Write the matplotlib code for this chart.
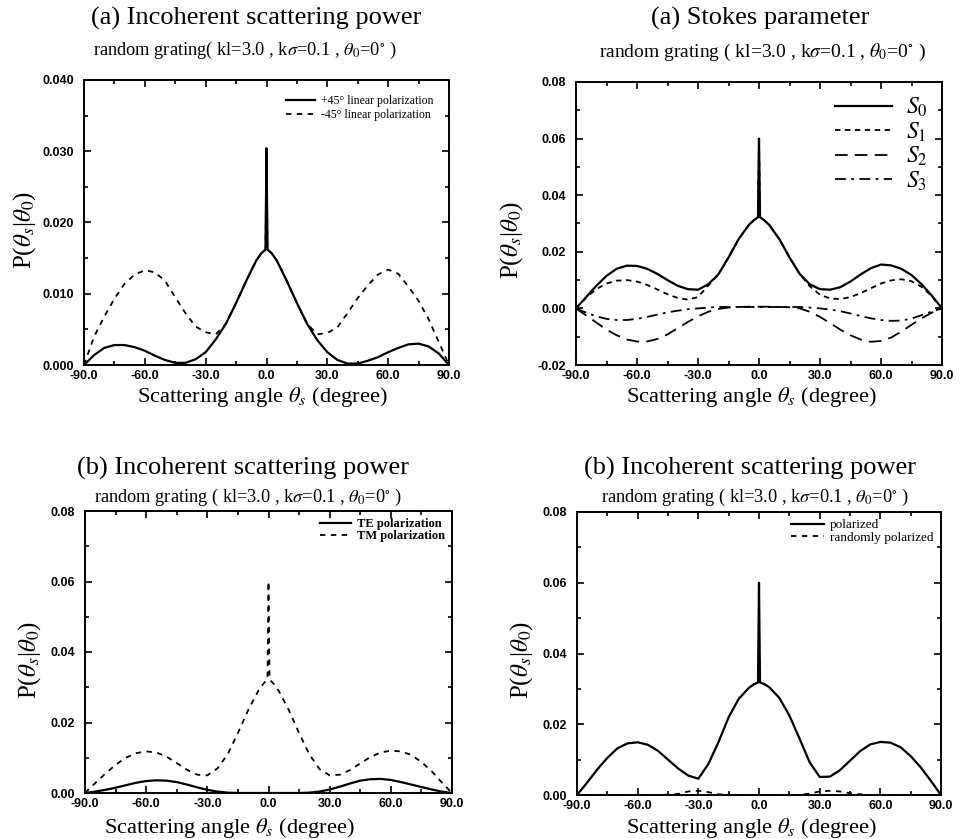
import matplotlib
matplotlib.use('Agg')
import matplotlib.pyplot as plt
from matplotlib.ticker import FormatStrFormatter, MultipleLocator

plt.rcParams['font.family'] = 'Liberation Serif'
plt.rcParams['mathtext.fontset'] = 'stix'

# scattering angle (degree), shared by all four panels
angle = [-90, -85, -80, -75, -70, -65, -60, -55, -50, -45, -40, -35, -30, -25, -20,
         -15, -10, -5, -2.5, -0.5, 0, 0.5, 2.5, 5, 10, 15, 20, 25, 30, 35, 40, 45, 50,
         55, 60, 65, 70, 75, 80, 85, 90]

# (a) incoherent scattering power, +45 / -45 linear polarization
plus45 = [0.0, 0.0014, 0.0024, 0.0028, 0.0028, 0.0025, 0.0020, 0.0013, 0.0007, 0.0003,
          0.0003, 0.0008, 0.0018, 0.0036, 0.0058, 0.0087, 0.0118, 0.0147, 0.0157, 0.0162,
          0.0304, 0.0162, 0.0157, 0.0147, 0.0118, 0.0087, 0.0058, 0.0035, 0.0018, 0.0007,
          0.0002, 0.0002, 0.0006, 0.0011, 0.0018, 0.0024, 0.0029, 0.0030, 0.0026, 0.0016, 0.0]
minus45 = [0.0, 0.0040, 0.0068, 0.0093, 0.0114, 0.0127, 0.0133, 0.0130, 0.0118, 0.0095,
           0.0073, 0.0054, 0.0046, 0.0043, 0.0058, 0.0087, 0.0118, 0.0147, 0.0157, 0.0162,
           0.0304, 0.0162, 0.0157, 0.0147, 0.0118, 0.0087, 0.0058, 0.0043, 0.0045, 0.0053,
           0.0073, 0.0094, 0.0112, 0.0127, 0.0134, 0.0128, 0.0110, 0.0090, 0.0064, 0.0032, 0.0]

# (a) Stokes parameters
s0 = [0.0, 0.0040, 0.0080, 0.0115, 0.0140, 0.0151, 0.0150, 0.0140, 0.0122, 0.0100,
      0.0080, 0.0068, 0.0066, 0.0085, 0.0120, 0.0180, 0.0245, 0.0295, 0.0312, 0.0322,
      0.0600, 0.0322, 0.0312, 0.0295, 0.0245, 0.0180, 0.0122, 0.0085, 0.0068, 0.0066,
      0.0075, 0.0095, 0.0120, 0.0142, 0.0155, 0.0152, 0.0140, 0.0118, 0.0085, 0.0045, 0.0]
s1 = [0.0, 0.0038, 0.0068, 0.0088, 0.0098, 0.0100, 0.0095, 0.0083, 0.0067, 0.0050,
      0.0037, 0.0031, 0.0040, 0.0080, 0.0120, 0.0180, 0.0245, 0.0295, 0.0312, 0.0322,
      0.0600, 0.0322, 0.0312, 0.0295, 0.0245, 0.0180, 0.0122, 0.0078, 0.0048, 0.0035,
      0.0033, 0.0040, 0.0054, 0.0071, 0.0088, 0.0099, 0.0103, 0.0096, 0.0076, 0.0043, 0.0]
s2 = [0.0, -0.0025, -0.0050, -0.0075, -0.0095, -0.0110, -0.0117, -0.0117, -0.0108, -0.0092,
      -0.0070, -0.0048, -0.0028, -0.0012, -0.0002, 0.0003, 0.0005, 0.0006, 0.0006, 0.0006,
      0.0006, 0.0006, 0.0006, 0.0006, 0.0005, 0.0004, 0.0, -0.0012, -0.0030, -0.0052,
      -0.0075, -0.0095, -0.0110, -0.0118, -0.0115, -0.0103, -0.0082, -0.0058, -0.0035,
      -0.0015, 0.0]
s3 = [0.0, -0.0015, -0.0028, -0.0037, -0.0041, -0.0041, -0.0037, -0.0030, -0.0022, -0.0014,
      -0.0008, -0.0003, 0.0, 0.0003, 0.0005, 0.0005, 0.0005, 0.0005, 0.0005, 0.0005,
      0.0005, 0.0005, 0.0005, 0.0005, 0.0005, 0.0005, 0.0005, 0.0003, 0.0, -0.0004,
      -0.0010, -0.0018, -0.0027, -0.0035, -0.0041, -0.0044, -0.0043, -0.0036, -0.0024,
      -0.0011, 0.0]

# (b) TE / TM polarization
te = [0.0, 0.0004, 0.0009, 0.0015, 0.0022, 0.0029, 0.0034, 0.0036, 0.0035, 0.0031,
      0.0024, 0.0016, 0.0009, 0.0004, 0.0001, 0.0, 0.0, 0.0, 0.0, 0.0,
      0.0, 0.0, 0.0, 0.0, 0.0, 0.0, 0.0001, 0.0004, 0.0010, 0.0018,
      0.0027, 0.0035, 0.0039, 0.0040, 0.0037, 0.0031, 0.0024, 0.0017, 0.0010, 0.0004, 0.0]
tm = [0.0, 0.0028, 0.0055, 0.0080, 0.0100, 0.0113, 0.0118, 0.0115, 0.0103, 0.0085,
      0.0066, 0.0052, 0.0050, 0.0070, 0.0110, 0.0170, 0.0235, 0.0290, 0.0310, 0.0322,
      0.0600, 0.0322, 0.0310, 0.0290, 0.0235, 0.0170, 0.0110, 0.0068, 0.0050, 0.0052,
      0.0065, 0.0084, 0.0102, 0.0115, 0.0120, 0.0118, 0.0108, 0.0088, 0.0062, 0.0030, 0.0]

# (b) polarized / randomly polarized
polarized = [0.0, 0.0035, 0.0072, 0.0105, 0.0132, 0.0146, 0.0149, 0.0142, 0.0125, 0.0100,
             0.0075, 0.0055, 0.0046, 0.0088, 0.0150, 0.0220, 0.0272, 0.0303, 0.0313, 0.0318,
             0.0600, 0.0318, 0.0314, 0.0305, 0.0275, 0.0225, 0.0160, 0.0093, 0.0051, 0.0052,
             0.0070, 0.0097, 0.0124, 0.0143, 0.0150, 0.0148, 0.0135, 0.0110, 0.0078, 0.0040, 0.0]
random_pol = [0.0, 0.0, 0.0, 0.0, 0.0, 0.0, 0.0, 0.0, 0.0, 0.0001,
              0.0003, 0.0010, 0.0012, 0.0008, 0.0002, 0.0, 0.0, 0.0, 0.0, 0.0,
              0.0, 0.0, 0.0, 0.0, 0.0, 0.0, 0.0, 0.0004, 0.0010, 0.0012,
              0.0010, 0.0005, 0.0002, 0.0, 0.0, 0.0, 0.0, 0.0, 0.0, 0.0, 0.0]

W, H = 961, 839
fig = plt.figure(figsize=(W / 100, H / 100), dpi=100)


def px_axes(left, top, right, bottom):
    return fig.add_axes([left / W, 1 - bottom / H, (right - left) / W, (bottom - top) / H])


def px_text(x, y, s, **kw):
    fig.text(x / W, 1 - y / H, s, ha='center', va='center', **kw)


def style_axes(ax, ylim, ystep, yfmt):
    ax.set_xlim(-90, 90)
    ax.set_ylim(*ylim)
    ax.xaxis.set_major_locator(MultipleLocator(30))
    ax.xaxis.set_minor_locator(MultipleLocator(15))
    ax.yaxis.set_major_locator(MultipleLocator(ystep))
    ax.yaxis.set_minor_locator(MultipleLocator(ystep / 2))
    ax.xaxis.set_major_formatter(FormatStrFormatter('%.1f'))
    ax.yaxis.set_major_formatter(FormatStrFormatter(yfmt))
    ax.tick_params(which='both', direction='in', top=True, right=True, width=1.2)
    ax.tick_params(which='major', length=5)
    ax.tick_params(which='minor', length=3)
    ax.tick_params(axis='x', pad=3.5)
    ax.tick_params(axis='y', pad=7)
    for sp in ax.spines.values():
        sp.set_linewidth(1.4)
    for lab in ax.get_xticklabels() + ax.get_yticklabels():
        lab.set_fontfamily('Liberation Sans')
        lab.set_fontweight('bold')
        lab.set_fontsize(9)


ylab = r'P($\theta_s$|$\theta_0$)'
xlab = r'Scattering angle $\theta_s$ (degree)'
sub1 = r'random grating( kl=3.0 , k$\sigma$=0.1 , $\theta_0$=0$^{\circ}$ )'
sub2 = r'random grating ( kl=3.0 , k$\sigma$=0.1 , $\theta_0$=0$^{\circ}$ )'
TITLE = 19
SUB = 13.2
XL = 16.2
YL = 18

# ---- top left
ax1 = px_axes(84, 80, 449, 365)
ax1.plot(angle, plus45, color='k', lw=1.6, label='+45° linear polarization')
ax1.plot(angle, minus45, color='k', lw=1.3, ls=(0, (3, 3)), label='-45° linear polarization')
style_axes(ax1, (0, 0.04), 0.01, '%.3f')
ax1.legend(loc='upper right', frameon=False, fontsize=8.5, handlelength=2.5,
           labelspacing=0.15, borderaxespad=0.9, handletextpad=0.5)
px_text(256, 18, '(a) Incoherent scattering power', fontsize=TITLE)
px_text(245, 50, sub1, fontsize=SUB)
px_text(262, 397, xlab, fontsize=XL)
px_text(25, 230, ylab, fontsize=YL, rotation=90)

# ---- top right
ax2 = px_axes(576, 82, 942, 365)
ax2.plot(angle, s0, color='k', lw=1.6, label='$S_0$')
ax2.plot(angle, s1, color='k', lw=1.3, ls=(0, (3, 2.5)), label='$S_1$')
ax2.plot(angle, s2, color='k', lw=1.3, ls=(0, (7, 4)), label='$S_2$')
ax2.plot(angle, s3, color='k', lw=1.3, ls=(0, (6, 3, 1.5, 3)), label='$S_3$')
style_axes(ax2, (-0.02, 0.08), 0.02, '%.2f')
ax2.legend(loc='upper right', frameon=False, fontsize=17, handlelength=2.4,
           labelspacing=0.05, borderaxespad=0.2, handletextpad=0.6)
px_text(760, 18, '(a) Stokes parameter', fontsize=TITLE)
px_text(762, 52, sub2, fontsize=14)
px_text(751, 397, xlab, fontsize=XL)
px_text(512, 240, ylab, fontsize=YL, rotation=90)

# ---- bottom left
ax3 = px_axes(85, 511, 452, 793)
ax3.plot(angle, te, color='k', lw=1.6, label='TE polarization')
ax3.plot(angle, tm, color='k', lw=1.3, ls=(0, (3, 3)), label='TM polarization')
style_axes(ax3, (0, 0.08), 0.02, '%.2f')
ax3.legend(loc='upper right', frameon=False, prop={'size': 9, 'weight': 'bold'},
           handlelength=2.5, labelspacing=0.0, borderaxespad=0.15, handletextpad=0.5)
px_text(243, 468, '(b) Incoherent scattering power', fontsize=TITLE)
px_text(248, 497, sub2, fontsize=SUB)
px_text(229, 828, xlab, fontsize=XL)
px_text(30, 660, ylab, fontsize=YL, rotation=90)

# ---- bottom right
ax4 = px_axes(577, 512, 941, 795)
ax4.plot(angle, polarized, color='k', lw=1.6, label='polarized')
ax4.plot(angle, random_pol, color='k', lw=1.3, ls=(0, (3, 3)), label='randomly polarized')
style_axes(ax4, (0, 0.08), 0.02, '%.2f')
ax4.legend(loc='upper right', frameon=False, fontsize=9.5, handlelength=2.5,
           labelspacing=0.0, borderaxespad=0.15, handletextpad=0.5)
px_text(750, 468, '(b) Incoherent scattering power', fontsize=TITLE)
px_text(755, 497, sub2, fontsize=SUB)
px_text(751, 828, xlab, fontsize=XL)
px_text(522, 660, ylab, fontsize=YL, rotation=90)

fig.savefig('out.png', dpi=100)
